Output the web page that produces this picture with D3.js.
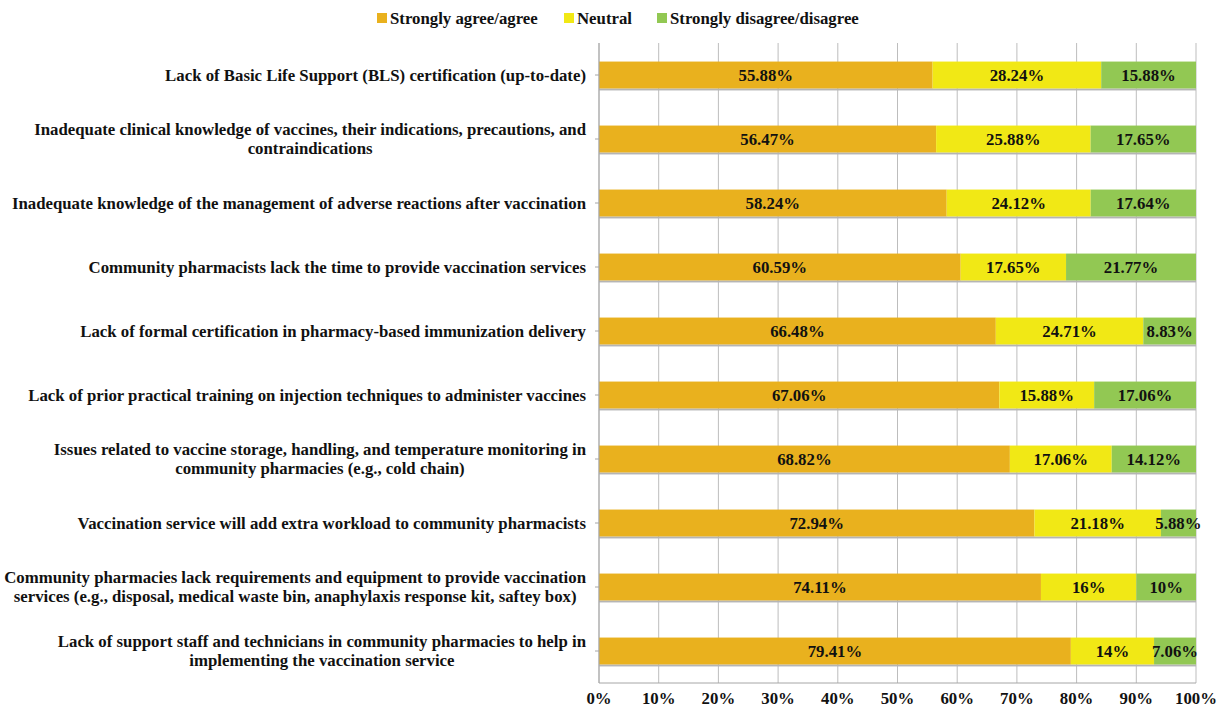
<!DOCTYPE html>
<html>
<head>
<meta charset="utf-8">
<script src="https://cdn.jsdelivr.net/npm/d3@7"></script>
<style>
  body { margin: 0; background: #fff; }
  text { font-family: 'Liberation Serif', 'Times New Roman', serif; font-weight: bold; }
</style>
</head>
<body>
<div id="chart"></div>
<script>
// barrier statements, top to bottom as shown
const categories = [
  ['Lack of Basic Life Support (BLS) certification (up-to-date)'],
  ['Inadequate clinical knowledge of vaccines, their indications, precautions, and', 'contraindications'],
  ['Inadequate knowledge of the management of adverse reactions after vaccination'],
  ['Community pharmacists lack the time to provide vaccination services'],
  ['Lack of formal certification in pharmacy-based immunization delivery'],
  ['Lack of prior practical training on injection techniques to administer vaccines'],
  ['Issues related to vaccine storage, handling, and temperature monitoring in', 'community pharmacies (e.g., cold chain)'],
  ['Vaccination service will add extra workload to community pharmacists'],
  ['Community pharmacies lack requirements and equipment to provide vaccination', 'services (e.g., disposal, medical waste bin, anaphylaxis response kit, saftey box)'],
  ['Lack of support staff and technicians in community pharmacies to help in', 'implementing the vaccination service']
]
const agree = [55.88, 56.47, 58.24, 60.59, 66.48, 67.06, 68.82, 72.94, 74.11, 79.41]
const neutral = [28.24, 25.88, 24.12, 17.65, 24.71, 15.88, 17.06, 21.18, 16, 14]
const disagree = [15.88, 17.65, 17.64, 21.77, 8.83, 17.06, 14.12, 5.88, 10, 7.06]
const seriesNames = ['Strongly agree/agree', 'Neutral', 'Strongly disagree/disagree']
const colors = ['#E9B11E', '#F1E815', '#92C853']
const xTicks = [0, 0.1, 0.2, 0.3, 0.4, 0.5, 0.6, 0.7, 0.8, 0.9, 1]

const W = 1223
const H = 710
const margin = { top: 43, right: 27, bottom: 27, left: 599 }
const width = W - margin.left - margin.right
const height = H - margin.top - margin.bottom
const fs = 16.8

const rows = categories.map((c, i) => ({
  key: i, agree: agree[i], neutral: neutral[i], disagree: disagree[i]
}))
const keys = ['agree', 'neutral', 'disagree']
const stacked = d3.stack().keys(keys).offset(d3.stackOffsetExpand)(rows)

const x = d3.scaleLinear().domain([0, 1]).range([0, width])
const y = d3.scaleBand().domain(d3.range(categories.length)).range([0, height]).paddingInner(0.58).paddingOuter(0.29)
const yc = d3.scaleBand().domain(d3.range(categories.length)).range([0, height])

const svg = d3.select('#chart').append('svg')
  .attr('width', W)
  .attr('height', H)

const g = svg.append('g')
  .attr('transform', 'translate(' + margin.left + ',' + margin.top + ')')

// grid lines
g.selectAll('.grid')
  .data(xTicks)
  .enter().append('line')
  .attr('x1', d => x(d)).attr('x2', d => x(d))
  .attr('y1', 0).attr('y2', height)
  .attr('stroke', '#BDBDBD').attr('stroke-width', 1)

// bar shadows
g.selectAll('.shadow')
  .data(rows)
  .enter().append('rect')
  .attr('x', 0)
  .attr('y', d => y(d.key) + y.bandwidth())
  .attr('width', width)
  .attr('height', 2)
  .attr('fill', '#B5B5B5')

// bars
const layer = g.selectAll('.layer')
  .data(stacked)
  .enter().append('g')
  .attr('fill', (d, i) => colors[i])

layer.selectAll('rect')
  .data(d => d)
  .enter().append('rect')
  .attr('x', d => x(d[0]))
  .attr('y', (d, i) => y(i))
  .attr('width', d => x(d[1]) - x(d[0]))
  .attr('height', y.bandwidth())

// value labels
stacked.forEach((s, si) => {
  g.selectAll('.lbl' + si)
    .data(s)
    .enter().append('text')
    .attr('x', d => (x(d[0]) + x(d[1])) / 2)
    .attr('y', (d, i) => y(i) + y.bandwidth() / 2)
    .attr('dy', '0.35em')
    .attr('text-anchor', 'middle')
    .attr('font-size', fs)
    .attr('fill', '#111')
    .text(d => d.data[s.key] + '%')
})

// axes lines
g.append('line')
  .attr('x1', 0).attr('x2', 0).attr('y1', 0).attr('y2', height)
  .attr('stroke', '#A6A6A6')
g.append('line')
  .attr('x1', 0).attr('x2', width).attr('y1', height).attr('y2', height)
  .attr('stroke', '#A6A6A6')

// category ticks
g.selectAll('.ytick')
  .data(rows)
  .enter().append('line')
  .attr('x1', -4).attr('x2', 0)
  .attr('y1', d => yc(d.key) + yc.bandwidth() / 2)
  .attr('y2', d => yc(d.key) + yc.bandwidth() / 2)
  .attr('stroke', '#A6A6A6')

// x tick labels
g.selectAll('.xlabel')
  .data(xTicks)
  .enter().append('text')
  .attr('x', d => x(d))
  .attr('y', height + 15)
  .attr('dy', '0.35em')
  .attr('text-anchor', 'middle')
  .attr('font-size', fs)
  .attr('fill', '#111')
  .text(d => d3.format('.0%')(d))

// category labels, lines centred on each other, right edge next to axis
const labelRight = -13
categories.forEach((lines, i) => {
  const cy = yc(i) + yc.bandwidth() / 2
  const t = g.append('text')
    .attr('text-anchor', 'middle')
    .attr('font-size', fs)
    .attr('fill', '#111')
  lines.forEach((ln, j) => {
    t.append('tspan')
      .attr('y', cy + (j - (lines.length - 1) / 2) * 19)
      .attr('dy', '0.35em')
      .text(ln)
  })
  let maxW = 0
  t.selectAll('tspan').each(function () {
    maxW = Math.max(maxW, this.getComputedTextLength())
  })
  t.selectAll('tspan').attr('x', labelRight - maxW / 2)
})

// legend
const legendX = [377, 564, 657]
const legend = svg.append('g')
seriesNames.forEach((name, i) => {
  legend.append('rect')
    .attr('x', legendX[i]).attr('y', 13)
    .attr('width', 10).attr('height', 10)
    .attr('fill', colors[i])
  legend.append('text')
    .attr('x', legendX[i] + 13).attr('y', 18)
    .attr('dy', '0.35em')
    .attr('font-size', fs)
    .attr('fill', '#111')
    .text(name)
})
</script>
</body>
</html>
